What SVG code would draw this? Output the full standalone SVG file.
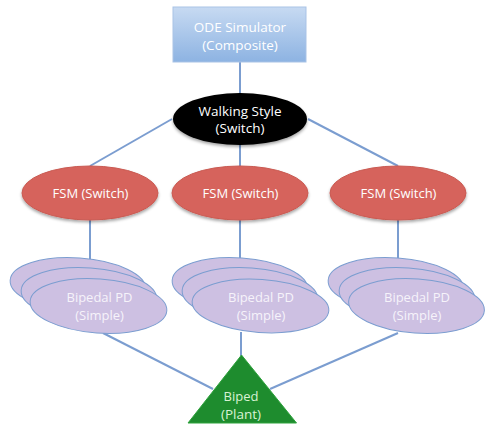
<svg xmlns="http://www.w3.org/2000/svg" width="485" height="424" viewBox="0 0 485 424">
<defs>
<linearGradient id="boxg" x1="0" y1="0" x2="0" y2="1">
<stop offset="0" stop-color="#c7daf2"/>
<stop offset="1" stop-color="#8db3e2"/>
</linearGradient>
<filter id="sh" x="-20%" y="-20%" width="140%" height="150%">
<feDropShadow dx="0" dy="2" stdDeviation="1.5" flood-color="#000" flood-opacity="0.35"/>
</filter>
</defs>
<style>
.t{font-family:"Open Sans","Liberation Sans",sans-serif;font-size:13px;text-anchor:middle;fill:#ffffff}
.conn line{stroke:#7b9dd0;stroke-width:2}
.fsm{fill:#d6635b;stroke:#c95a52;stroke-width:1}
.pd{fill:#cdc0e2;stroke:#7b9dd0;stroke-width:1}
.pdt{fill:#f6f3fa}
.plt{fill:#d9f2d4}
</style>
<g id="connectors" class="conn">
<line x1="240" y1="62" x2="240" y2="94"/>
<line x1="172" y1="119" x2="90" y2="166"/>
<line x1="240" y1="145" x2="240" y2="166"/>
<line x1="308" y1="119" x2="398" y2="166"/>
<line x1="90" y1="220" x2="90" y2="259"/>
<line x1="240" y1="220" x2="240" y2="259"/>
<line x1="398" y1="220" x2="398" y2="259"/>
<line x1="103" y1="333" x2="213" y2="389"/>
<line x1="241" y1="332" x2="241" y2="356"/>
<line x1="398" y1="333" x2="270" y2="389"/>
</g>
<g id="ode">
<rect x="173" y="7" width="133" height="55" fill="url(#boxg)" stroke="#a9c3e6" stroke-width="1"/>
<text class="t" x="240" y="32" style="font-size:13.5px">ODE Simulator</text>
<text class="t" x="240" y="50" style="font-size:13.5px">(Composite)</text>
</g>
<g id="walking">
<ellipse cx="240" cy="119" rx="67" ry="26" fill="#000" filter="url(#sh)"/>
<text class="t" x="240" y="116" style="font-size:13.5px">Walking Style</text>
<text class="t" x="240" y="133" style="font-size:13.5px">(Switch)</text>
</g>
<g id="fsm1">
<ellipse class="fsm" cx="90" cy="193" rx="68" ry="27" filter="url(#sh)"/>
<text class="t" x="90.5" y="198">FSM (Switch)</text>
</g>
<g id="fsm2">
<ellipse class="fsm" cx="240" cy="193" rx="68" ry="27" filter="url(#sh)"/>
<text class="t" x="240.5" y="198">FSM (Switch)</text>
</g>
<g id="fsm3">
<ellipse class="fsm" cx="398" cy="193" rx="68" ry="27" filter="url(#sh)"/>
<text class="t" x="398.5" y="198">FSM (Switch)</text>
</g>
<g id="pd1">
<ellipse class="pd" cx="78" cy="285" rx="68" ry="27" transform="rotate(4 78 285)"/>
<ellipse class="pd" cx="89" cy="295" rx="68" ry="27" transform="rotate(4 89 295)"/>
<ellipse class="pd" cx="98.5" cy="306" rx="68.5" ry="27" transform="rotate(4 98.5 306)"/>
<text class="t pdt" x="99.5" y="302">Bipedal PD</text>
<text class="t pdt" x="99.5" y="320">(Simple)</text>
</g>
<g id="pd2">
<ellipse class="pd" cx="240" cy="285" rx="68" ry="27" transform="rotate(4 240 285)"/>
<ellipse class="pd" cx="250" cy="295" rx="68" ry="27" transform="rotate(4 250 295)"/>
<ellipse class="pd" cx="260.5" cy="306" rx="68.5" ry="26.5" transform="rotate(4 260.5 306)"/>
<text class="t pdt" x="261" y="302">Bipedal PD</text>
<text class="t pdt" x="261" y="320">(Simple)</text>
</g>
<g id="pd3">
<ellipse class="pd" cx="396" cy="285" rx="68" ry="27" transform="rotate(4 396 285)"/>
<ellipse class="pd" cx="407" cy="295" rx="68" ry="27" transform="rotate(4 407 295)"/>
<ellipse class="pd" cx="416.5" cy="306" rx="68" ry="27" transform="rotate(4 416.5 306)"/>
<text class="t pdt" x="417" y="302">Bipedal PD</text>
<text class="t pdt" x="417" y="320">(Simple)</text>
</g>
<g id="biped">
<polygon points="241.5,355 296.5,423 188,423" fill="#1e8c2e" stroke="#2ea33c" stroke-width="1"/>
<text class="t plt" x="241" y="401">Biped</text>
<text class="t plt" x="241" y="419" style="font-size:13.5px">(Plant)</text>
</g>
</svg>
